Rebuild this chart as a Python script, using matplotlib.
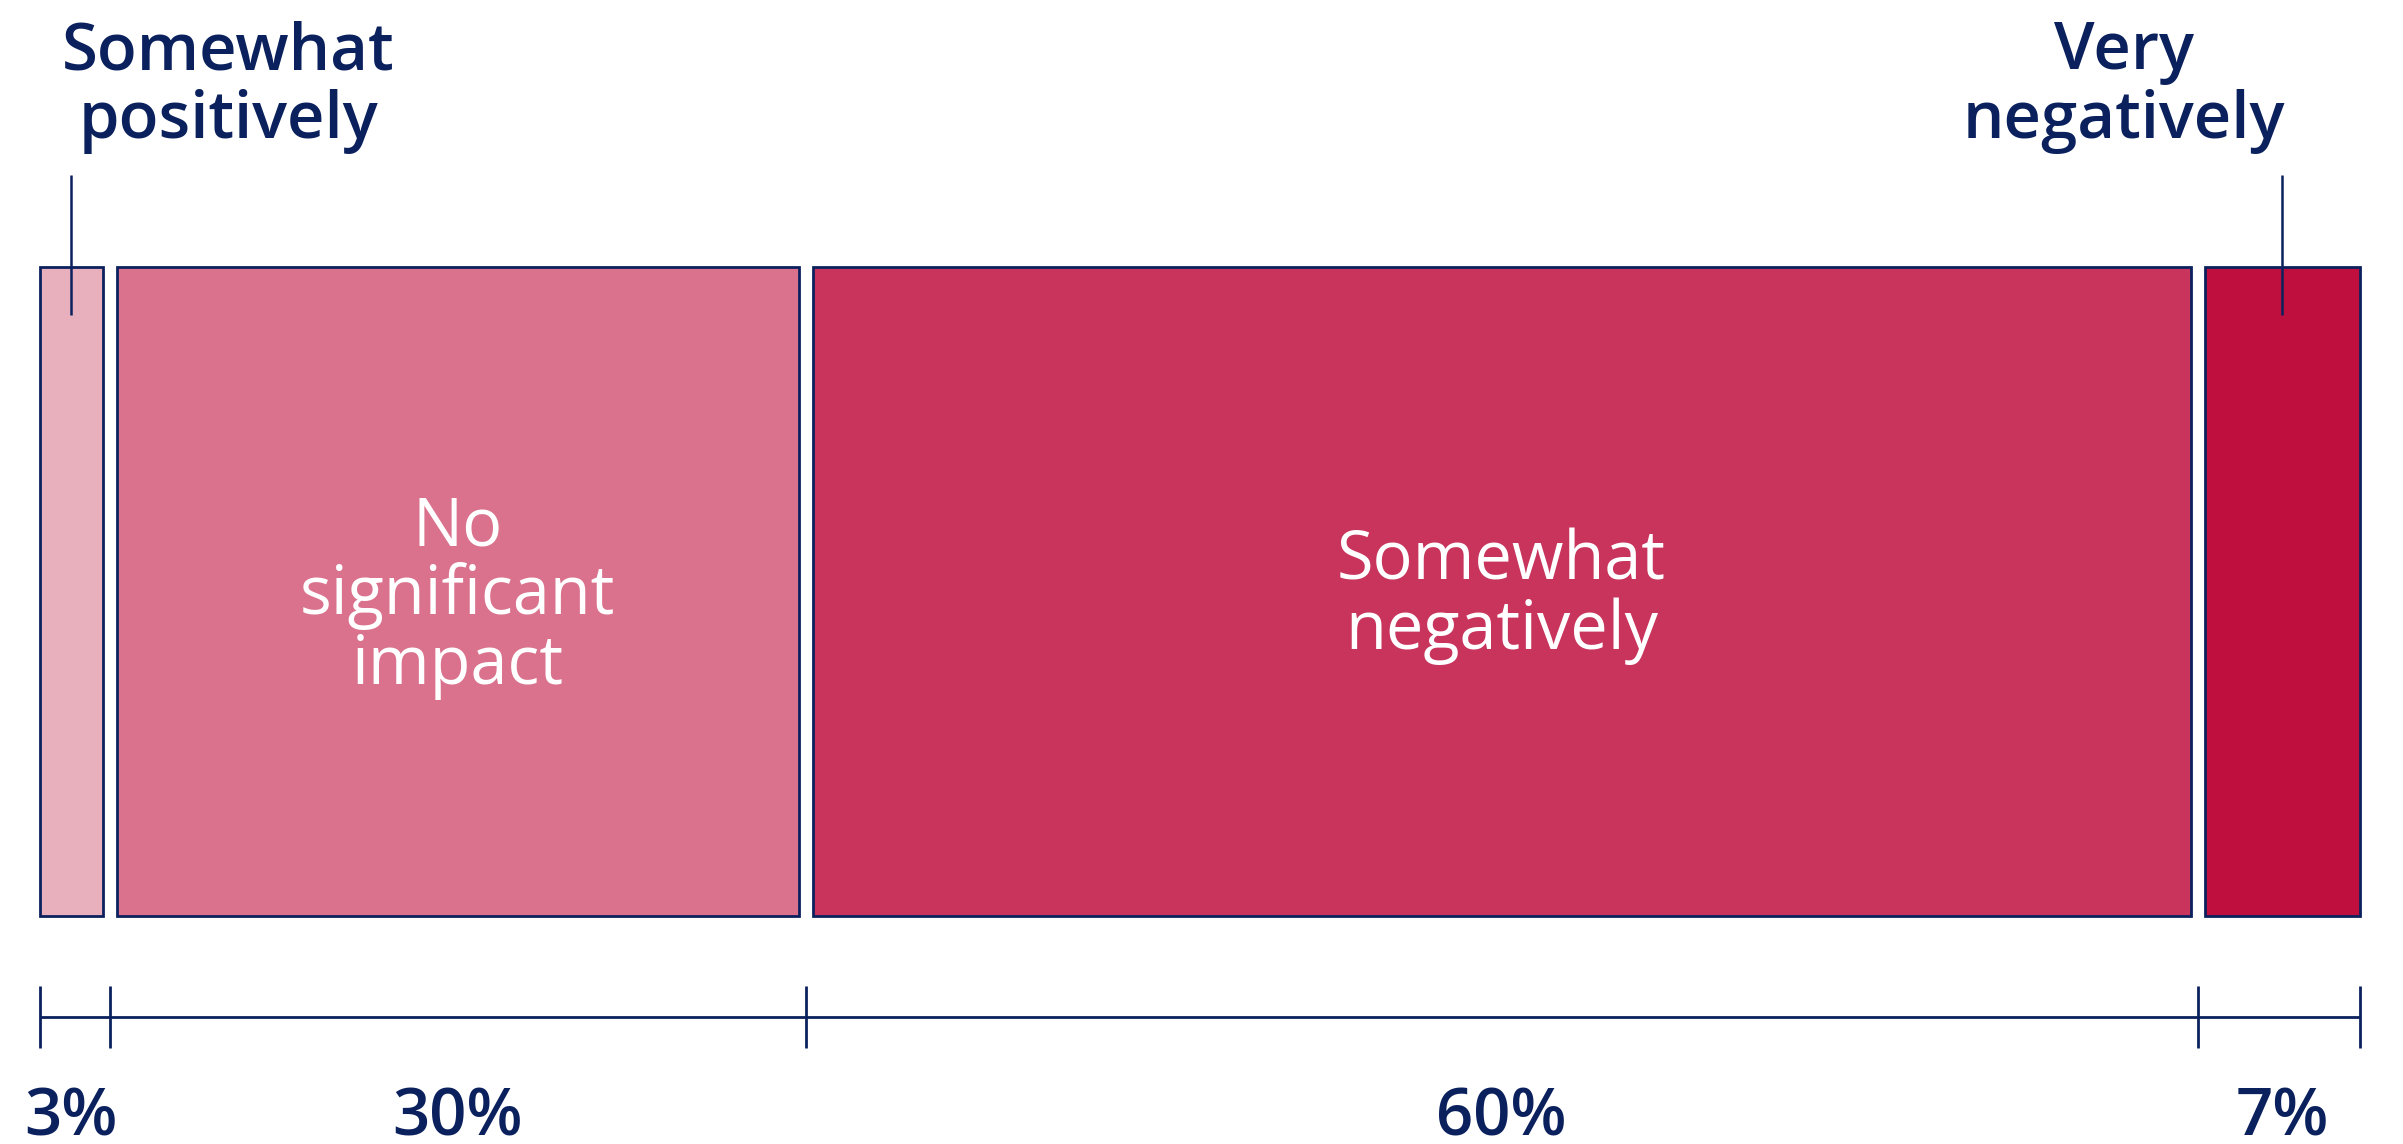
import numpy as np
import matplotlib.pyplot as plt

# shares of respondents, left to right
categories = ['Somewhat positively', 'No significant impact',
              'Somewhat negatively', 'Very negatively']
values = [3, 30, 60, 7]
value_labels = ['3%', '30%', '60%', '7%']
colors = ['#e8afbd', '#da728d', '#c8345c', '#be0f3e']

navy = '#0b215e'
font = 'Open Sans'

W, H = 2403, 1144
fig = plt.figure(figsize=(W / 100, H / 100), dpi=100)
ax = fig.add_axes([0, 0, 1, 1])

# x in percent, y in pixel rows (top = 0)
x_left_px, x_right_px = 40, 2360
scale = (x_right_px - x_left_px) / 100.0
ax.set_xlim(-x_left_px / scale, 100 + (W - x_right_px) / scale)
ax.set_ylim(H, 0)
ax.axis('off')

gap = 14 / scale
bounds = np.concatenate([[0], np.cumsum(values)])
n = len(values)
lefts = bounds[:-1] + np.where(np.arange(n) > 0, gap / 2, 0)
rights = bounds[1:] - np.where(np.arange(n) < n - 1, gap / 2, 0)
centers = (lefts + rights) / 2

bar_top, bar_bot = 267, 916
bar_mid = (bar_top + bar_bot) / 2
ax.barh(bar_mid, rights - lefts, left=lefts, height=bar_bot - bar_top,
        color=colors, edgecolor=navy, linewidth=2)


def stacked(x, y0, lines, step, **kw):
    for i, line in enumerate(lines):
        ax.text(x, y0 + i * step, line, ha='center', va='baseline', **kw)


# labels inside the two wide boxes
inner = {1: ['No', 'significant', 'impact'], 2: ['Somewhat', 'negatively']}
for i, lines in inner.items():
    step = 69
    y0 = bar_mid + 23 - (len(lines) - 1) * step / 2
    stacked(centers[i], y0, lines, step, color='white', fontsize=48,
            family=font, fontweight=400)

# call-outs for the two narrow boxes
ax.vlines([centers[0], centers[-1]], 175, 315, color=navy, linewidth=1.8)
stacked(centers[0] + 157 / scale, 69, ['Somewhat', 'positively'], 69,
        color=navy, fontsize=47, family=font, fontweight=600)
stacked(centers[-1] - 158 / scale, 69, ['Very', 'negatively'], 69,
        color=navy, fontsize=47, family=font, fontweight=600)

# bracket scale underneath
ax.hlines(1017, bounds[0], bounds[-1], color=navy, linewidth=2)
ax.vlines(bounds, 986, 1048, color=navy, linewidth=2)

for c, lab in zip(centers, value_labels):
    ax.text(c, 1135, lab, ha='center', va='baseline', color=navy,
            fontsize=47, family=font, fontweight=600)

fig.savefig('out.png', dpi=100, facecolor='white')
